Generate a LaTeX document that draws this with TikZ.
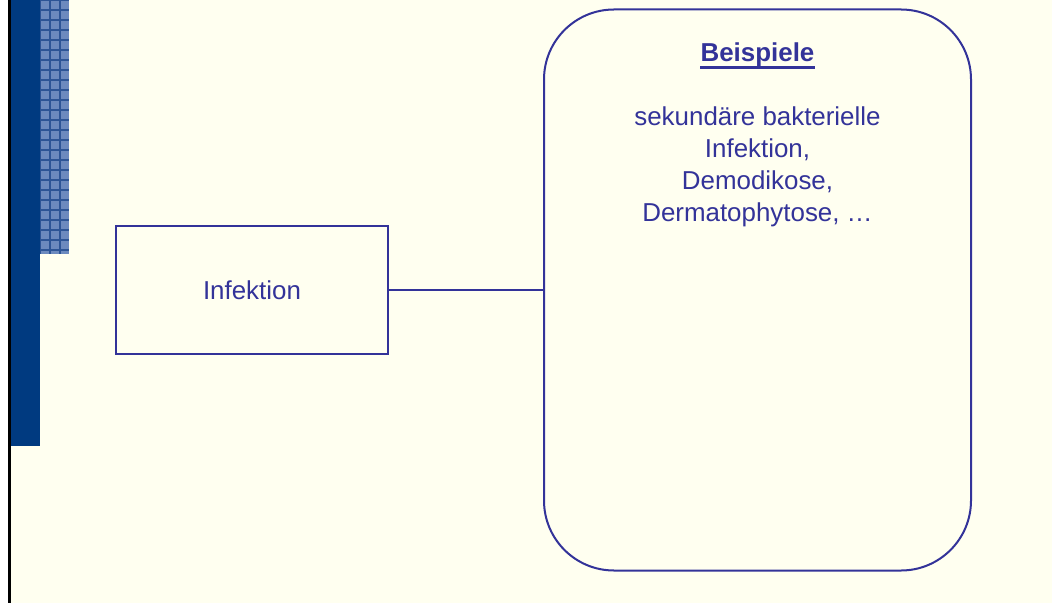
\documentclass[tikz,border=0pt]{standalone}
\usepackage{fontspec}
\setmainfont{Liberation Sans}
\usepackage{xcolor}
\usepackage{tikz}
\usetikzlibrary{positioning}

\definecolor{slidebg}{RGB}{255,255,240}
\definecolor{barblue}{RGB}{0,58,128}
\definecolor{checkblue}{RGB}{108,138,190}
\definecolor{checkline}{RGB}{45,85,150}
\definecolor{textblue}{RGB}{51,51,153}

\begin{document}
\begin{tikzpicture}[x=1bp,y=-1bp,
  txt/.style={text=textblue, font=\fontsize{26}{32}\selectfont, align=center},
  frame/.style={draw=textblue, line width=2bp, txt}]

% BACKGROUND
  \useasboundingbox (0,0) rectangle (1052,603);
  \fill[white] (0,0) rectangle (1052,603);
  \fill[slidebg] (8,0) rectangle (1052,603);

% LEFT BAR
  \fill[barblue] (11,0) rectangle (40,446);
  \fill[checkblue] (40,0) rectangle (69,254);
  \begin{scope}
    \clip (40,0) rectangle (69,254);
    \draw[checkline, line width=1.6bp, step=10bp] (40,0) grid (69,254);
  \end{scope}
  \draw[black, line width=3bp] (9.5,0) -- (9.5,603);

% BOXES
  \node[frame, minimum width=272bp, minimum height=128bp] (infektion) at (252,290) {Infektion};
  \node[frame, rounded corners=70bp, minimum width=427bp, minimum height=561bp] (beispiele) at (757.5,290) {};

% TEXT
  \node[txt, inner sep=0pt] (titel) at (757.5,55) {\textbf{Beispiele}};
  \draw[textblue, line width=2.8bp] ([yshift=-6bp]titel.base west) -- ([yshift=-6bp]titel.base east);
  \node[txt] (liste) at (757.5,167) {sekundäre bakterielle\\Infektion,\\Demodikose,\\Dermatophytose, …};

% CONNECTOR
  \draw[textblue, line width=2bp] (infektion.east) -- (beispiele.west);
\end{tikzpicture}
\end{document}
